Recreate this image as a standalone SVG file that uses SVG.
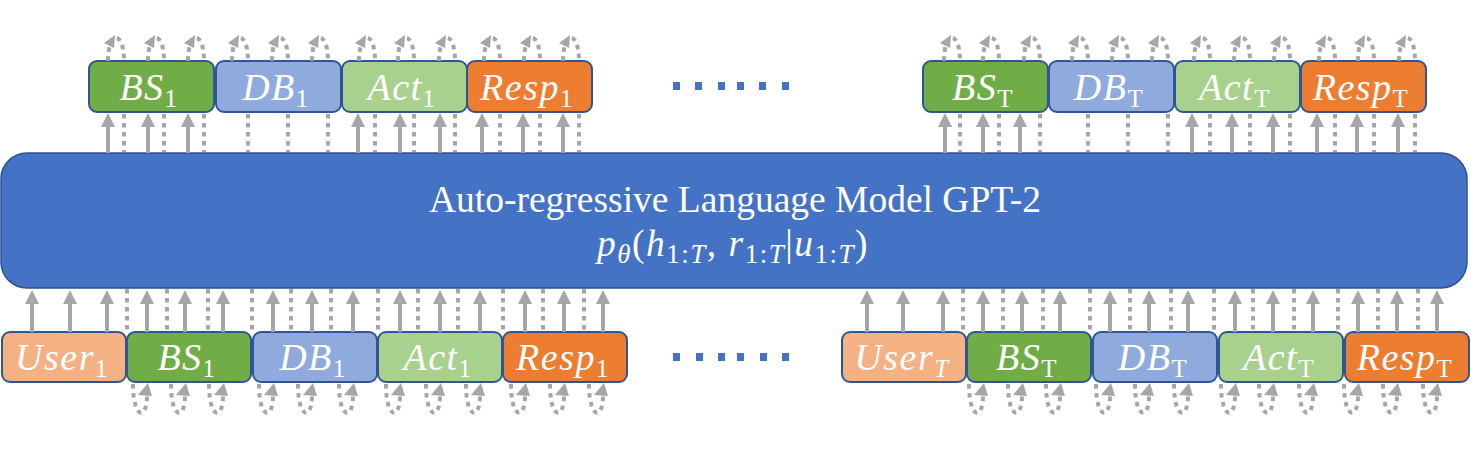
<svg xmlns="http://www.w3.org/2000/svg" xmlns:xlink="http://www.w3.org/1999/xlink" width="1471" height="474" viewBox="0 0 1471 474">
<style>
.bs{fill:#70AD47}.db{fill:#8FAADC}.act{fill:#A9D18E}.resp{fill:#ED7D31}.user{fill:#F4B183}
.box{stroke:#2F5597;stroke-width:2}
.lbl{font-family:"Liberation Serif","DejaVu Serif",serif;font-style:italic;font-size:38px;fill:#fff;text-anchor:middle;letter-spacing:1.5px}
.sub{font-size:25px;font-style:normal}
.subi{font-size:25px;font-style:italic}
.main{font-family:"Liberation Serif","DejaVu Serif",serif;font-size:37.5px;fill:#fff;text-anchor:middle}
.solid{stroke:#A6A6A6;stroke-width:4;fill:none}
.dot{stroke:#A6A6A6;stroke-width:4;fill:none;stroke-dasharray:4.5 4.5}
.head{fill:#A6A6A6}
.ell{fill:#4472C4}
</style>
<defs>
<marker id="ah" viewBox="0 0 14 14" refX="0" refY="7" markerWidth="14" markerHeight="14" markerUnits="userSpaceOnUse" orient="auto">
<path d="M0,0 L14,7 L0,14 z" fill="#A6A6A6"/>
</marker>
<line id="tsol" class="solid" x1="0" y1="153" x2="0" y2="127" marker-end="url(#ah)"/>
<line id="bsol" class="solid" x1="0" y1="332" x2="0" y2="304" marker-end="url(#ah)"/>
<line id="tdot" class="dot" x1="0" y1="114" x2="0" y2="152"/>
<line id="bdot" class="dot" x1="0" y1="289" x2="0" y2="331"/>
<g id="toploop">
<path class="dot" d="M-16,61 C-16,30 0,30 0,61"/>
<polygon class="head" points="-9,35 -10,48 -20,43"/>
</g>
<g id="botloop">
<path class="dot" d="M-14,384 C-14,420 0,420 0,396"/>
<polygon class="head" points="1,383 -9,395 5,396"/>
</g>
</defs>
<rect width="1471" height="474" fill="#fff"/>

<g id="model">
<rect x="1" y="153" width="1466" height="135" rx="26" fill="#4472C4" stroke="#2F528F" stroke-width="1.5"/>
<text class="main" x="735" y="212">Auto-regressive Language Model GPT-2</text>
<text class="main" x="733" y="256" font-size="40" letter-spacing="1.5"><tspan font-style="italic">p</tspan><tspan font-size="27" font-style="italic" dy="7">θ</tspan><tspan dy="-7">(</tspan><tspan font-style="italic">h</tspan><tspan font-size="27" dy="7">1:</tspan><tspan font-size="27" font-style="italic">T</tspan><tspan dy="-7">,</tspan><tspan font-style="italic"> r</tspan><tspan font-size="27" dy="7">1:</tspan><tspan font-size="27" font-style="italic">T</tspan><tspan dy="-7">|</tspan><tspan font-style="italic">u</tspan><tspan font-size="27" dy="7">1:</tspan><tspan font-size="27" font-style="italic">T</tspan><tspan dy="-7">)</tspan></text>
</g>

<g id="out-bs1"><rect class="box bs" x="89" y="61" width="125" height="51" rx="8"/><text class="lbl" x="149" y="100">BS<tspan class="sub" dy="7">1</tspan></text></g>
<g id="out-db1"><rect class="box db" x="216" y="61" width="125" height="51" rx="8"/><text class="lbl" x="276" y="100">DB<tspan class="sub" dy="7">1</tspan></text></g>
<g id="out-act1"><rect class="box act" x="342" y="61" width="125" height="51" rx="8"/><text class="lbl" x="402" y="100">Act<tspan class="sub" dy="7">1</tspan></text></g>
<g id="out-resp1"><rect class="box resp" x="467" y="61" width="125" height="51" rx="8"/><text class="lbl" x="527" y="100">Resp<tspan class="sub" dy="7">1</tspan></text></g>
<g id="out-bsT"><rect class="box bs" x="923" y="61" width="125" height="51" rx="8"/><text class="lbl" x="983" y="100">BS<tspan class="sub" dy="7">T</tspan></text></g>
<g id="out-dbT"><rect class="box db" x="1049" y="61" width="125" height="51" rx="8"/><text class="lbl" x="1109" y="100">DB<tspan class="sub" dy="7">T</tspan></text></g>
<g id="out-actT"><rect class="box act" x="1175" y="61" width="125" height="51" rx="8"/><text class="lbl" x="1235" y="100">Act<tspan class="sub" dy="7">T</tspan></text></g>
<g id="out-respT"><rect class="box resp" x="1301" y="61" width="125" height="51" rx="8"/><text class="lbl" x="1361" y="100">Resp<tspan class="sub" dy="7">T</tspan></text></g>

<g id="in-user1"><rect class="box user" x="2" y="332" width="124" height="50" rx="8"/><text class="lbl" x="62" y="370">User<tspan class="sub" dy="7">1</tspan></text></g>
<g id="in-bs1"><rect class="box bs" x="127" y="332" width="124" height="50" rx="8"/><text class="lbl" x="187" y="370">BS<tspan class="sub" dy="7">1</tspan></text></g>
<g id="in-db1"><rect class="box db" x="253" y="332" width="124" height="50" rx="8"/><text class="lbl" x="313" y="370">DB<tspan class="sub" dy="7">1</tspan></text></g>
<g id="in-act1"><rect class="box act" x="378" y="332" width="124" height="50" rx="8"/><text class="lbl" x="438" y="370">Act<tspan class="sub" dy="7">1</tspan></text></g>
<g id="in-resp1"><rect class="box resp" x="503" y="332" width="124" height="50" rx="8"/><text class="lbl" x="563" y="370">Resp<tspan class="sub" dy="7">1</tspan></text></g>
<g id="in-userT"><rect class="box user" x="842" y="332" width="124" height="50" rx="8"/><text class="lbl" x="902" y="370">User<tspan class="subi" dy="7">T</tspan></text></g>
<g id="in-bsT"><rect class="box bs" x="967" y="332" width="124" height="50" rx="8"/><text class="lbl" x="1027" y="370">BS<tspan class="sub" dy="7">T</tspan></text></g>
<g id="in-dbT"><rect class="box db" x="1093" y="332" width="124" height="50" rx="8"/><text class="lbl" x="1153" y="370">DB<tspan class="sub" dy="7">T</tspan></text></g>
<g id="in-actT"><rect class="box act" x="1219" y="332" width="124" height="50" rx="8"/><text class="lbl" x="1279" y="370">Act<tspan class="sub" dy="7">T</tspan></text></g>
<g id="in-respT"><rect class="box resp" x="1345" y="332" width="124" height="50" rx="8"/><text class="lbl" x="1405" y="370">Resp<tspan class="sub" dy="7">T</tspan></text></g>

<g id="ellipsis-top">
<rect class="ell" x="673" y="82" width="7" height="8"/><rect class="ell" x="695" y="82" width="7" height="8"/><rect class="ell" x="718" y="82" width="7" height="8"/><rect class="ell" x="737" y="82" width="7" height="8"/><rect class="ell" x="759" y="82" width="7" height="8"/><rect class="ell" x="782" y="82" width="7" height="8"/>
</g>
<g id="ellipsis-bottom">
<rect class="ell" x="673" y="353" width="7" height="8"/><rect class="ell" x="696" y="353" width="7" height="8"/><rect class="ell" x="718" y="353" width="7" height="8"/><rect class="ell" x="737" y="353" width="7" height="8"/><rect class="ell" x="760" y="353" width="7" height="8"/><rect class="ell" x="782" y="353" width="7" height="8"/>
</g>

<g id="connectors">
<g id="top-solid">
<use xlink:href="#tsol" x="108"/><use xlink:href="#tsol" x="148"/><use xlink:href="#tsol" x="188"/>
<use xlink:href="#tsol" x="358"/><use xlink:href="#tsol" x="400"/><use xlink:href="#tsol" x="440"/>
<use xlink:href="#tsol" x="482"/><use xlink:href="#tsol" x="523"/><use xlink:href="#tsol" x="563"/>
<use xlink:href="#tsol" x="945"/><use xlink:href="#tsol" x="983"/><use xlink:href="#tsol" x="1020"/>
<use xlink:href="#tsol" x="1192"/><use xlink:href="#tsol" x="1232"/><use xlink:href="#tsol" x="1273"/>
<use xlink:href="#tsol" x="1317"/><use xlink:href="#tsol" x="1357"/><use xlink:href="#tsol" x="1398"/>
</g>
<g id="top-dotted">
<use xlink:href="#tdot" x="124"/><use xlink:href="#tdot" x="164"/><use xlink:href="#tdot" x="204"/>
<use xlink:href="#tdot" x="248"/><use xlink:href="#tdot" x="288"/><use xlink:href="#tdot" x="328"/>
<use xlink:href="#tdot" x="375"/><use xlink:href="#tdot" x="414"/><use xlink:href="#tdot" x="455"/>
<use xlink:href="#tdot" x="500"/><use xlink:href="#tdot" x="540"/><use xlink:href="#tdot" x="579"/>
<use xlink:href="#tdot" x="960"/><use xlink:href="#tdot" x="999"/><use xlink:href="#tdot" x="1040"/>
<use xlink:href="#tdot" x="1088"/><use xlink:href="#tdot" x="1128"/><use xlink:href="#tdot" x="1168"/>
<use xlink:href="#tdot" x="1210"/><use xlink:href="#tdot" x="1250"/><use xlink:href="#tdot" x="1290"/>
<use xlink:href="#tdot" x="1335"/><use xlink:href="#tdot" x="1374"/><use xlink:href="#tdot" x="1415"/>
</g>
<g id="top-loops">
<use xlink:href="#toploop" x="124"/><use xlink:href="#toploop" x="164"/><use xlink:href="#toploop" x="204"/>
<use xlink:href="#toploop" x="248"/><use xlink:href="#toploop" x="288"/><use xlink:href="#toploop" x="328"/>
<use xlink:href="#toploop" x="375"/><use xlink:href="#toploop" x="414"/><use xlink:href="#toploop" x="455"/>
<use xlink:href="#toploop" x="500"/><use xlink:href="#toploop" x="540"/><use xlink:href="#toploop" x="579"/>
<use xlink:href="#toploop" x="960"/><use xlink:href="#toploop" x="999"/><use xlink:href="#toploop" x="1040"/>
<use xlink:href="#toploop" x="1088"/><use xlink:href="#toploop" x="1128"/><use xlink:href="#toploop" x="1168"/>
<use xlink:href="#toploop" x="1210"/><use xlink:href="#toploop" x="1250"/><use xlink:href="#toploop" x="1290"/>
<use xlink:href="#toploop" x="1335"/><use xlink:href="#toploop" x="1374"/><use xlink:href="#toploop" x="1415"/>
</g>
<g id="bottom-solid">
<use xlink:href="#bsol" x="32"/><use xlink:href="#bsol" x="70"/><use xlink:href="#bsol" x="107"/>
<use xlink:href="#bsol" x="147"/><use xlink:href="#bsol" x="185"/><use xlink:href="#bsol" x="223"/>
<use xlink:href="#bsol" x="273"/><use xlink:href="#bsol" x="312"/><use xlink:href="#bsol" x="353"/>
<use xlink:href="#bsol" x="400"/><use xlink:href="#bsol" x="440"/><use xlink:href="#bsol" x="480"/>
<use xlink:href="#bsol" x="525"/><use xlink:href="#bsol" x="564"/><use xlink:href="#bsol" x="603"/>
<use xlink:href="#bsol" x="867"/><use xlink:href="#bsol" x="903"/><use xlink:href="#bsol" x="943"/>
<use xlink:href="#bsol" x="983"/><use xlink:href="#bsol" x="1022"/><use xlink:href="#bsol" x="1060"/>
<use xlink:href="#bsol" x="1110"/><use xlink:href="#bsol" x="1149"/><use xlink:href="#bsol" x="1188"/>
<use xlink:href="#bsol" x="1235"/><use xlink:href="#bsol" x="1273"/><use xlink:href="#bsol" x="1313"/>
<use xlink:href="#bsol" x="1358"/><use xlink:href="#bsol" x="1397"/><use xlink:href="#bsol" x="1437"/>
</g>
<g id="bottom-dotted">
<use xlink:href="#bdot" x="127"/><use xlink:href="#bdot" x="167"/><use xlink:href="#bdot" x="208"/>
<use xlink:href="#bdot" x="252"/><use xlink:href="#bdot" x="291"/><use xlink:href="#bdot" x="331"/>
<use xlink:href="#bdot" x="378"/><use xlink:href="#bdot" x="418"/><use xlink:href="#bdot" x="458"/>
<use xlink:href="#bdot" x="503"/><use xlink:href="#bdot" x="543"/><use xlink:href="#bdot" x="584"/>
<use xlink:href="#bdot" x="963"/><use xlink:href="#bdot" x="1003"/><use xlink:href="#bdot" x="1043"/>
<use xlink:href="#bdot" x="1090"/><use xlink:href="#bdot" x="1130"/><use xlink:href="#bdot" x="1171"/>
<use xlink:href="#bdot" x="1214"/><use xlink:href="#bdot" x="1253"/><use xlink:href="#bdot" x="1294"/>
<use xlink:href="#bdot" x="1338"/><use xlink:href="#bdot" x="1378"/><use xlink:href="#bdot" x="1418"/>
</g>
<g id="bottom-loops">
<use xlink:href="#botloop" x="147"/><use xlink:href="#botloop" x="185"/><use xlink:href="#botloop" x="223"/>
<use xlink:href="#botloop" x="273"/><use xlink:href="#botloop" x="312"/><use xlink:href="#botloop" x="353"/>
<use xlink:href="#botloop" x="400"/><use xlink:href="#botloop" x="440"/><use xlink:href="#botloop" x="480"/>
<use xlink:href="#botloop" x="525"/><use xlink:href="#botloop" x="564"/><use xlink:href="#botloop" x="603"/>
<use xlink:href="#botloop" x="983"/><use xlink:href="#botloop" x="1022"/><use xlink:href="#botloop" x="1060"/>
<use xlink:href="#botloop" x="1110"/><use xlink:href="#botloop" x="1149"/><use xlink:href="#botloop" x="1188"/>
<use xlink:href="#botloop" x="1235"/><use xlink:href="#botloop" x="1273"/><use xlink:href="#botloop" x="1313"/>
<use xlink:href="#botloop" x="1358"/><use xlink:href="#botloop" x="1397"/><use xlink:href="#botloop" x="1437"/>
</g>
</g>
</svg>
